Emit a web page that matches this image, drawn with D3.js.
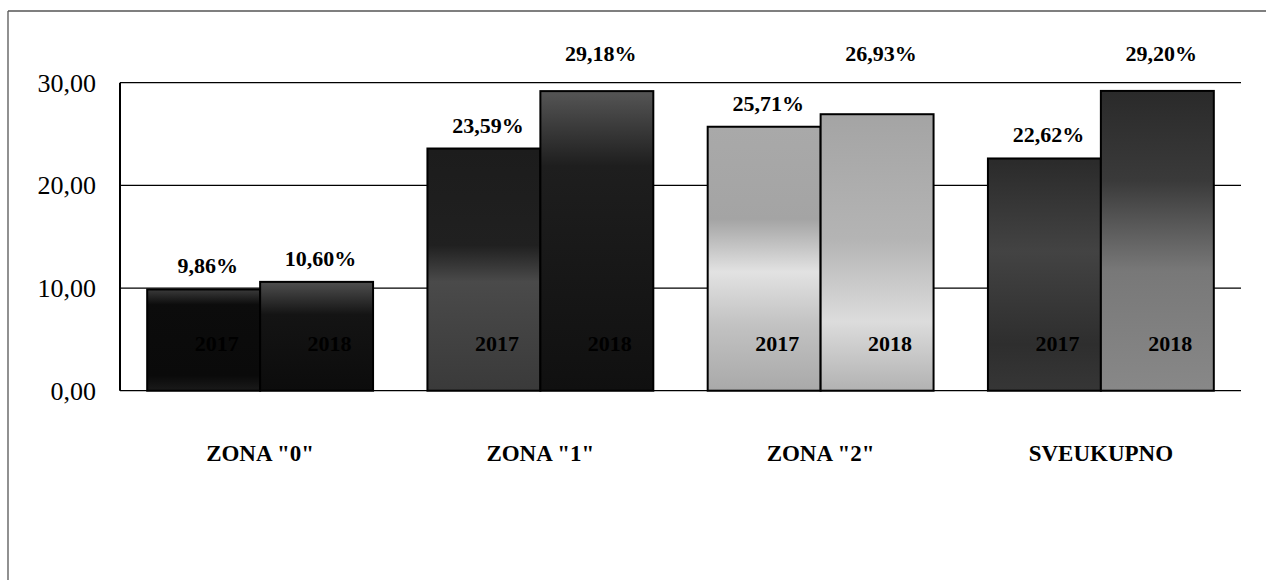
<!DOCTYPE html>
<html>
<head>
<meta charset="utf-8">
<script src="https://cdn.jsdelivr.net/npm/d3@7/dist/d3.min.js"></script>
<style>
  html, body { margin: 0; padding: 0; background: #fff; }
  svg { display: block; }
</style>
</head>
<body>
<svg id="chart" width="1266" height="580"></svg>
<script>
// ---- data ----
const categories = ['ZONA "0"', 'ZONA "1"', 'ZONA "2"', 'SVEUKUPNO'];
const seriesNames = ['2017', '2018'];
const values2017 = [9.86, 23.59, 25.71, 22.62];
const values2018 = [10.60, 29.18, 26.93, 29.20];
const yTicks = [0, 10, 20, 30];

// ---- layout ----
const W = 1266, H = 580;
const svg = d3.select('#chart');
const plot = { left: 120, right: 1241, top: 82.7, bottom: 390.7 };

const x0 = d3.scaleBand().domain(categories).range([plot.left, plot.right]).paddingInner(0.194).paddingOuter(0.097);
const x1 = d3.scaleBand().domain(seriesNames).range([0, x0.bandwidth()]).padding(0);
const y = d3.scaleLinear().domain([0, 30]).range([plot.bottom, plot.top]);

const fmt = v => d3.format('.2f')(v).replace('.', ',');

// gradients imitating the scanned textures
const gradStops = {
  '0-2017': [[0, '#3a3a3a'], [0.15, '#0c0c0c'], [0.85, '#0a0a0a'], [1, '#1a1a1a']],
  '0-2018': [[0, '#4e4e4e'], [0.3, '#141414'], [1, '#0c0c0c']],
  '1-2017': [[0, '#1c1c1c'], [0.4, '#202020'], [0.55, '#4a4a4a'], [1, '#3a3a3a']],
  '1-2018': [[0, '#555'], [0.25, '#1e1e1e'], [1, '#101010']],
  '2-2017': [[0, '#a9a9a9'], [0.35, '#a4a4a4'], [0.55, '#e2e2e2'], [0.75, '#c2c2c2'], [1, '#a9a9a9']],
  '2-2018': [[0, '#a4a4a4'], [0.45, '#b4b4b4'], [0.75, '#dcdcdc'], [1, '#b2b2b2']],
  '3-2017': [[0, '#2a2a2a'], [0.4, '#434343'], [0.8, '#2e2e2e'], [1, '#363636']],
  '3-2018': [[0, '#2a2a2a'], [0.3, '#3a3a3a'], [0.6, '#787878'], [1, '#888']]
};
const defs = svg.append('defs');
Object.entries(gradStops).forEach(([k, stops]) => {
  const g = defs.append('linearGradient').attr('id', 'g' + k.replace('-', '_'))
    .attr('x1', 0).attr('y1', 0).attr('x2', 0).attr('y2', 1);
  stops.forEach(([o, c]) => g.append('stop').attr('offset', o).attr('stop-color', c));
});

// outer frame (top + left)
svg.append('line').attr('x1', 8).attr('x2', W).attr('y1', 11).attr('y2', 11)
  .attr('stroke', '#555').attr('stroke-width', 1.3);
svg.append('line').attr('x1', 8).attr('x2', 8).attr('y1', 11).attr('y2', H)
  .attr('stroke', '#555').attr('stroke-width', 1.3);

// gridlines
svg.append('g').selectAll('line').data(yTicks).join('line')
  .attr('x1', plot.left).attr('x2', plot.right)
  .attr('y1', d => y(d)).attr('y2', d => y(d))
  .attr('stroke', '#000').attr('stroke-width', 1.2);

// y axis line
svg.append('line').attr('x1', plot.left).attr('x2', plot.left)
  .attr('y1', y(30)).attr('y2', y(0)).attr('stroke', '#000').attr('stroke-width', 2);

// y tick labels
svg.append('g').selectAll('text').data(yTicks).join('text')
  .attr('x', 96).attr('y', d => y(d) + 9)
  .attr('text-anchor', 'end')
  .attr('font-family', '"Liberation Serif", "Times New Roman", serif')
  .attr('font-size', 26)
  .attr('fill', '#000')
  .text(d => fmt(d));

// bars
const rows = categories.map((c, i) => ({
  cat: c, idx: i,
  items: [
    { s: '2017', v: values2017[i] },
    { s: '2018', v: values2018[i] }
  ]
}));

const groups = svg.append('g').selectAll('g').data(rows).join('g')
  .attr('transform', d => `translate(${x0(d.cat)},0)`);

groups.selectAll('rect').data(d => d.items.map(it => ({ ...it, idx: d.idx }))).join('rect')
  .attr('x', d => x1(d.s))
  .attr('y', d => y(d.v))
  .attr('width', x1.bandwidth())
  .attr('height', d => y(0) - y(d.v))
  .attr('fill', d => `url(#g${d.idx}_${d.s})`)
  .attr('stroke', '#000').attr('stroke-width', 2);

// year labels inside bars (hidden on dark bars like in the original)
groups.selectAll('text.year').data(d => d.items).join('text')
  .attr('class', 'year')
  .attr('x', d => x1(d.s) + x1.bandwidth() / 2 + 13)
  .attr('y', y(0) - 40)
  .attr('text-anchor', 'middle')
  .attr('font-family', '"Liberation Serif", "Times New Roman", serif')
  .attr('font-weight', 'bold')
  .attr('font-size', 22)
  .attr('fill', '#000')
  .text(d => d.s);

// value labels
groups.selectAll('text.val').data(d => d.items).join('text')
  .attr('class', 'val')
  .attr('x', d => x1(d.s) + x1.bandwidth() / 2 + 4)
  .attr('y', d => (y(d.v) - y(30) < 35) ? y(30) - 22 : y(d.v) - 16)
  .attr('text-anchor', 'middle')
  .attr('font-family', '"Liberation Serif", "Times New Roman", serif')
  .attr('font-weight', 'bold')
  .attr('font-size', 22)
  .attr('fill', '#000')
  .text(d => fmt(d.v) + '%');

// category labels
svg.append('g').selectAll('text').data(categories).join('text')
  .attr('x', d => x0(d) + x0.bandwidth() / 2)
  .attr('y', 461)
  .attr('text-anchor', 'middle')
  .attr('font-family', '"Liberation Serif", "Times New Roman", serif')
  .attr('font-weight', 'bold')
  .attr('font-size', 23)
  .attr('fill', '#000')
  .text(d => d);
</script>
</body>
</html>
